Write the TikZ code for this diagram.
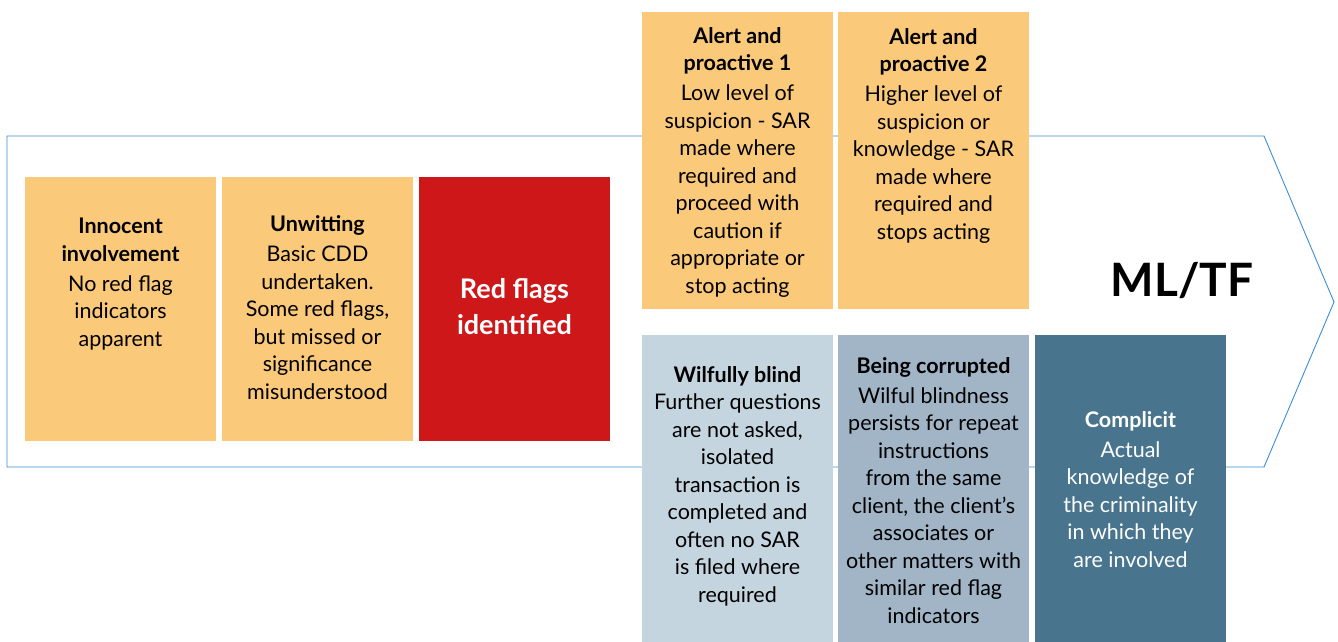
\documentclass[tikz,border=0pt]{standalone}
\usepackage{fontspec}
\setmainfont{Lato}
\definecolor{orng}{HTML}{FBC97A}
\definecolor{redf}{HTML}{CD1719}
\definecolor{lblue}{HTML}{C5D5DF}
\definecolor{mblue}{HTML}{A1B5C7}
\definecolor{dblue}{HTML}{48758D}
\definecolor{outl}{HTML}{3B8ED4}
\tikzset{
  box/.style={draw=none, inner sep=0pt, anchor=north west, minimum width=191pt},
  lowbox/.style={box, minimum height=264pt},
  upbox/.style={box, minimum height=297pt},
  botbox/.style={box, minimum height=307pt},
  txt/.style={inner sep=0pt, anchor=base, align=center, font=\fontsize{21.5}{27.5}\selectfont},
}
\begin{document}
\begin{tikzpicture}[x=1pt, y=-1pt]
\useasboundingbox (0,0) rectangle (1338,642);
% arrow outline
\coordinate (a1) at (7,136);
\coordinate (a2) at (1264,136);
\coordinate (a3) at (1334,302);
\coordinate (a4) at (1264,467);
\coordinate (a5) at (7,467);
\draw[outl, line width=0.9pt, line join=miter] (a1) -- (a2) -- (a3) -- (a4) -- (a5) -- cycle;
% boxes
\node[lowbox, fill=orng] (b1) at (25,177) {};
\node[lowbox, fill=orng] (b2) at (222,177) {};
\node[lowbox, fill=redf] (b3) at (419,177) {};
\node[upbox, fill=orng] (b4) at (642,12) {};
\node[upbox, fill=orng] (b5) at (838,12) {};
\node[botbox, fill=lblue] (b6) at (642,335) {};
\node[botbox, fill=mblue] (b7) at (838,335) {};
\node[botbox, fill=dblue] (b8) at (1035,335) {};
% texts (anchor = baseline of last line)
\node[txt] (t1) at (120.5,346) {\textbf{Innocent}\\\textbf{involvement}\\[2.5pt]No red flag\\indicators\\apparent};
\node[txt] (t2) at (317.5,399) {\textbf{Unwitting}\\[2.5pt]Basic CDD\\undertaken.\\Some red flags,\\but missed or\\significance\\misunderstood};
\node[txt, font=\bfseries\fontsize{27}{36}\selectfont, text=white] (t3) at (514.5,334) {Red flags\\identified};
\node[txt] (t4) at (737.5,293) {\textbf{Alert and}\\\textbf{proactive 1}\\[2.5pt]Low level of\\suspicion - SAR\\made where\\required and\\proceed with\\caution if\\appropriate or\\stop acting};
\node[txt] (t5) at (933.5,239) {\textbf{Alert and}\\\textbf{proactive 2}\\[2.5pt]Higher level of\\suspicion or\\knowledge - SAR\\made where\\required and\\stops acting};
\node[txt] (t6) at (737.5,602) {\textbf{Wilfully blind}\\Further questions\\are not asked,\\isolated\\transaction is\\completed and\\often no SAR\\is filed where\\required};
\node[txt] (t7) at (933.5,623) {\textbf{Being corrupted}\\[2.5pt]Wilful blindness\\persists for repeat\\instructions\\from the same\\client, the client’s\\associates or\\other matters with\\similar red flag\\indicators};
\node[txt, text=white] (t8) at (1130.5,567) {\textbf{Complicit}\\[2.5pt]Actual\\knowledge of\\the criminality\\in which they\\are involved};
\node[txt, font=\bfseries\fontsize{46}{50}\selectfont] (t9) at (1182,296) {ML/TF};
\end{tikzpicture}
\end{document}
